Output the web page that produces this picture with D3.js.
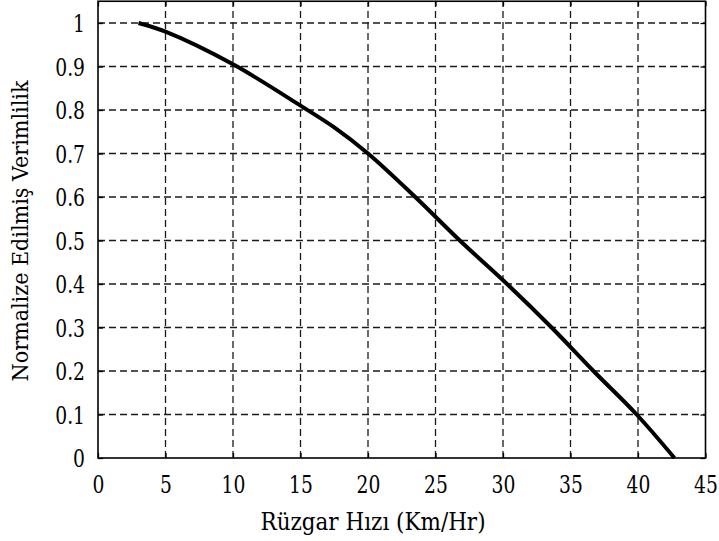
<!DOCTYPE html>
<html>
<head>
<meta charset="utf-8">
<script src="https://cdn.jsdelivr.net/npm/d3@7"></script>
<style>
  body { margin: 0; background: #fff; }
</style>
</head>
<body>
<div id="vis"></div>
<script>
// chart frame
const FRAME_WIDTH = 719;
const FRAME_HEIGHT = 541;
const MARGINS = {left: 98, right: 13.5, top: 1.25, bottom: 83};
const SERIF = "DejaVu Serif";

// data
const windSpeed = [3, 5, 10, 15, 17.5, 20, 23.5, 26.8, 30.3, 33.6, 36.7, 39.9, 42.7];
const efficiency = [1, 0.98, 0.905, 0.81, 0.76, 0.70, 0.60, 0.50, 0.40, 0.30, 0.20, 0.10, 0];
const xTicks = [0, 5, 10, 15, 20, 25, 30, 35, 40, 45];
const yTicks = [0, 0.1, 0.2, 0.3, 0.4, 0.5, 0.6, 0.7, 0.8, 0.9, 1];
const xLabel = "Rüzgar Hızı (Km/Hr)";
const yLabel = "Normalize Edilmiş Verimlilik";

const VIS_WIDTH = FRAME_WIDTH - MARGINS.left - MARGINS.right;
const VIS_HEIGHT = FRAME_HEIGHT - MARGINS.top - MARGINS.bottom;

const svg = d3.select("#vis")
  .append("svg")
    .attr("width", FRAME_WIDTH)
    .attr("height", FRAME_HEIGHT);

const X_SCALE = d3.scaleLinear().domain([0, 45]).range([MARGINS.left, MARGINS.left + VIS_WIDTH]);
const Y_SCALE = d3.scaleLinear().domain([0, 1.05]).range([MARGINS.top + VIS_HEIGHT, MARGINS.top]);

// dashed grid
svg.append("g")
  .selectAll("line")
  .data(xTicks.slice(1, -1))
  .enter()
  .append("line")
    .attr("x1", d => X_SCALE(d)).attr("x2", d => X_SCALE(d))
    .attr("y1", Y_SCALE(0)).attr("y2", Y_SCALE(1.05))
    .attr("stroke", "#1a1a1a").attr("stroke-width", 1.3)
    .attr("stroke-dasharray", "7,4");

svg.append("g")
  .selectAll("line")
  .data(yTicks.slice(1))
  .enter()
  .append("line")
    .attr("x1", X_SCALE(0)).attr("x2", X_SCALE(45))
    .attr("y1", d => Y_SCALE(d)).attr("y2", d => Y_SCALE(d))
    .attr("stroke", "#1a1a1a").attr("stroke-width", 1.3)
    .attr("stroke-dasharray", "7,4");

// axes with inward ticks
const xAxis = svg.append("g")
  .attr("transform", "translate(0," + Y_SCALE(0) + ")")
  .call(d3.axisBottom(X_SCALE).tickValues(xTicks).tickSizeInner(-5).tickSizeOuter(0));

const yAxis = svg.append("g")
  .attr("transform", "translate(" + X_SCALE(0) + ",0)")
  .call(d3.axisLeft(Y_SCALE).tickValues(yTicks).tickSizeInner(-5).tickSizeOuter(0)
    .tickFormat(d => d3.format("")(+d.toFixed(1))));

svg.append("g")
  .attr("transform", "translate(0," + Y_SCALE(1.05) + ")")
  .call(d3.axisTop(X_SCALE).tickValues(xTicks).tickSizeInner(-5).tickSizeOuter(0).tickFormat(""));

svg.append("g")
  .attr("transform", "translate(" + X_SCALE(45) + ",0)")
  .call(d3.axisRight(Y_SCALE).tickValues(yTicks).tickSizeInner(-5).tickSizeOuter(0).tickFormat(""));

svg.selectAll(".domain").remove();
svg.selectAll("g").attr("font-family", SERIF);
svg.selectAll(".tick line").attr("stroke", "#000").attr("stroke-width", 1.3);

// narrow the serif digits to look like the Times face of the original
xAxis.selectAll(".tick text")
  .attr("x", 0).attr("y", 0).attr("dy", null)
  .attr("transform", "translate(0,35) scale(0.78,1)")
  .attr("font-size", "24px").attr("fill", "#000");
yAxis.selectAll(".tick text")
  .attr("x", 0).attr("dy", "0.36em")
  .attr("transform", "translate(-13,0) scale(0.78,1)")
  .attr("font-size", "24px").attr("fill", "#000");

// frame box
svg.append("rect")
  .attr("x", X_SCALE(0)).attr("y", Y_SCALE(1.05))
  .attr("width", X_SCALE(45) - X_SCALE(0))
  .attr("height", Y_SCALE(0) - Y_SCALE(1.05))
  .attr("fill", "none").attr("stroke", "#000").attr("stroke-width", 1.6);

// curve
const line = d3.line()
  .x((d, i) => X_SCALE(windSpeed[i]))
  .y(d => Y_SCALE(d))
  .curve(d3.curveCatmullRom);

svg.append("path")
  .datum(efficiency)
  .attr("d", line)
  .attr("fill", "none")
  .attr("stroke", "#000")
  .attr("stroke-width", 4);

// axis labels
svg.append("text")
  .attr("transform", "translate(373,530) scale(0.86,1)")
  .attr("text-anchor", "middle")
  .attr("font-family", SERIF)
  .attr("font-size", "25px")
  .text(xLabel);

svg.append("text")
  .attr("transform", "translate(28,231) rotate(-90) scale(0.9,1)")
  .attr("text-anchor", "middle")
  .attr("font-family", SERIF)
  .attr("font-size", "23px")
  .text(yLabel);
</script>
</body>
</html>
